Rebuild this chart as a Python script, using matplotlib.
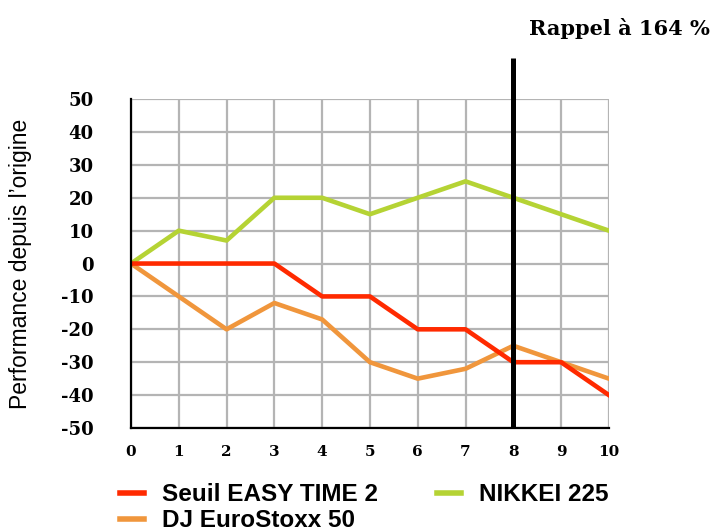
import matplotlib
matplotlib.use("Agg")
import matplotlib.pyplot as plt

# values
years = [0, 1, 2, 3, 4, 5, 6, 7, 8, 9, 10]
seuil = [0, 0, 0, 0, -10, -10, -20, -20, -30, -30, -40]
eurostoxx = [0, -10, -20, -12, -17, -30, -35, -32, -25, -30, -35]
nikkei = [0, 10, 7, 20, 20, 15, 20, 25, 20, 15, 10]
yticks = list(range(-50, 51, 10))
rappel_year = 8

RED, ORANGE, GREEN = "#ff2a00", "#f0963c", "#b5d334"
SERIF = ["DejaVu Serif"]
SANS = ["Liberation Sans", "DejaVu Sans"]
plt.rcParams["axes.unicode_minus"] = False

fig = plt.figure(figsize=(7.13, 5.30), dpi=100)
ax = fig.add_axes([0.1837, 0.1925, 0.6703, 0.6205])

ax.plot(years, seuil, color=RED, lw=3.3, label="Seuil EASY TIME 2", zorder=4)
ax.plot(years, eurostoxx, color=ORANGE, lw=3.3, label="DJ EuroStoxx 50", zorder=3)
ax.plot(years, nikkei, color=GREEN, lw=3.3, label="NIKKEI 225", zorder=3)

ax.set_xlim(0, 10)
ax.set_ylim(-50, 50)
ax.set_xticks(years)
ax.set_yticks(yticks)
ax.set_yticklabels([str(v) for v in yticks])
ax.grid(True, color="#b4b4b4", lw=1.6)
ax.set_axisbelow(True)
ax.tick_params(length=0)
for s in ("top", "right"):
    ax.spines[s].set_visible(False)
for s in ("left", "bottom"):
    ax.spines[s].set_linewidth(1.6)
    ax.spines[s].set_zorder(5)

for lab in ax.get_yticklabels():
    lab.set_fontfamily(SERIF)
    lab.set_fontweight("bold")
    lab.set_fontsize(13)
for lab in ax.get_xticklabels():
    lab.set_fontfamily(SERIF)
    lab.set_fontweight("bold")
    lab.set_fontsize(11)
ax.tick_params(axis="y", pad=27)
ax.tick_params(axis="x", pad=12)

ax.set_ylabel("Performance depuis l\u2019origine", family=SANS, fontsize=16.5)
ax.yaxis.set_label_coords(-0.208, 0.5)

# recall line at year 8, extends above the plot
ax.plot([rappel_year, rappel_year], [-50, 62.5], color="black", lw=3.6,
        clip_on=False, zorder=6, solid_capstyle="butt")
fig.text(0.996, 0.947, "Rappel \u00e0 164 %", ha="right", va="center",
         family=SERIF, fontweight="bold", fontsize=15)

leg = fig.legend(loc="upper left", bbox_to_anchor=(0.168, 0.088), ncol=2,
                 frameon=False, handlelength=1.0, handletextpad=0.75,
                 columnspacing=2.4, labelspacing=0.12, borderpad=0,
                 borderaxespad=0,
                 prop={"family": SANS, "weight": "bold", "size": 17.5})
for h in leg.get_lines():
    h.set_linewidth(4)

fig.savefig("out.png", dpi=100)
